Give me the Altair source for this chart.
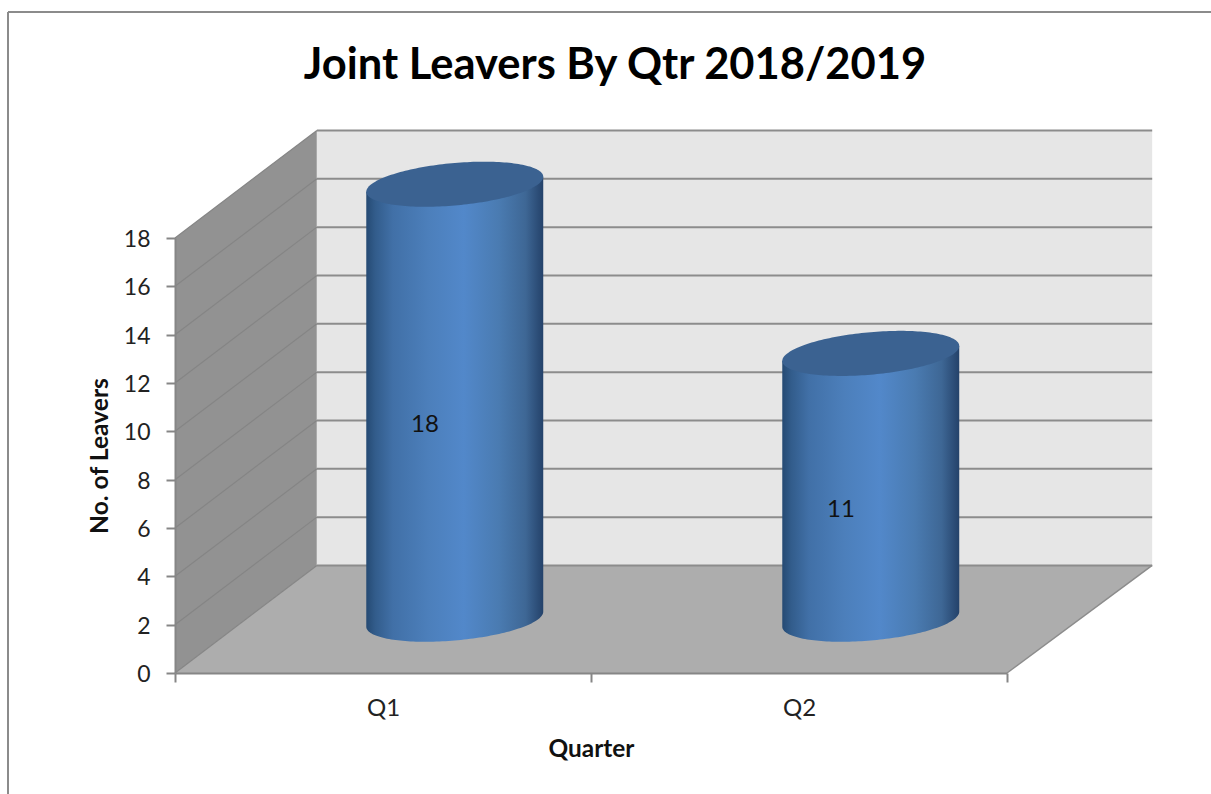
import math
import altair as alt
import pandas as pd

# Values shown by the chart
quarters = ["Q1", "Q2"]
leavers = [18, 11]
tick_values = [0, 2, 4, 6, 8, 10, 12, 14, 16, 18]

# Oblique projection of the box, in axis units
DEPTH_X = 0.345
DEPTH_X_LEFT = 0.341
DEPTH_X_RIGHT = 0.349
DEPTH_Y = 4.45
X_MAX = len(quarters)
Y_MAX = 18

# Cylinder proportions, in axis units
CYL_HALF_WIDTH = 0.2127
CYL_HALF_HEIGHT = 0.88
CYL_SHEAR = 0.31
CYL_DEPTH = 0.5

GRID = "#8c8c8c"
FONT = "Lato"


def ellipse_rows():
    """Sample the base and top outlines of each cylinder from its value."""
    rows = []
    n = 90
    for i, (q, v) in enumerate(zip(quarters, leavers)):
        cx = i + 0.5 + CYL_DEPTH * DEPTH_X
        base = CYL_DEPTH * DEPTH_Y
        for k in range(n + 1):
            c = -math.cos(math.pi * k / n)
            half = CYL_HALF_HEIGHT * math.sqrt(max(0.0, 1 - c * c))
            tilt = CYL_SHEAR * c
            rows.append({
                "q": q,
                "x": cx + CYL_HALF_WIDTH * c,
                "body_low": base + tilt - half,
                "body_high": base + v + tilt,
                "top_low": base + v + tilt - half,
                "top_high": base + v + tilt + half,
            })
    return pd.DataFrame(rows)


cyl = ellipse_rows()

x_scale = alt.Scale(domain=[0, X_MAX], nice=False, zero=False)
y_scale = alt.Scale(domain=[0, Y_MAX], nice=False, zero=False)
X = lambda f: alt.X(f, type="quantitative", scale=x_scale, axis=None)
Y = lambda f: alt.Y(f, type="quantitative", scale=y_scale, axis=None)

# Outer chart border: left and top edges only
border = alt.Chart(pd.DataFrame({"a": [0]})).mark_rule(color="#8b8b8b", strokeWidth=2)
border_left = border.encode(x=alt.value(-167), y=alt.value(-226), y2=alt.value(556))
border_top = border.encode(x=alt.value(-167), x2=alt.value(1036), y=alt.value(-226))

# Left wall
side_wall = alt.Chart(pd.DataFrame({
    "x": [0, DEPTH_X_LEFT], "y": [0, DEPTH_Y], "y2": [Y_MAX, Y_MAX + DEPTH_Y],
})).mark_area(color="#929292", orient="vertical").encode(x=X("x"), y=Y("y"), y2="y2")

# Back wall
back_wall = alt.Chart(pd.DataFrame({
    "x": [DEPTH_X_LEFT], "x2": [X_MAX + DEPTH_X_RIGHT], "y": [DEPTH_Y], "y2": [Y_MAX + DEPTH_Y],
})).mark_rect(color="#e6e6e6").encode(x=X("x"), x2="x2", y=Y("y"), y2="y2")

# Floor
floor = alt.Chart(pd.DataFrame({
    "y": [0, DEPTH_Y], "x": [0, DEPTH_X_LEFT], "x2": [X_MAX, X_MAX + DEPTH_X_RIGHT],
})).mark_area(color="#adadad", orient="horizontal").encode(y=Y("y"), x=X("x"), x2="x2")

# Floor's right edge
floor_edge = alt.Chart(pd.DataFrame({
    "x": [X_MAX, X_MAX + DEPTH_X_RIGHT], "y": [0, DEPTH_Y],
})).mark_line(color=GRID, strokeWidth=1.5).encode(x=X("x"), y=Y("y"))

# Gridlines on the back wall
back_grid = alt.Chart(pd.DataFrame({
    "x": [DEPTH_X_LEFT] * len(tick_values),
    "x2": [X_MAX + DEPTH_X_RIGHT] * len(tick_values),
    "y": [t + DEPTH_Y for t in tick_values],
})).mark_rule(color=GRID, strokeWidth=2).encode(x=X("x"), x2="x2", y=Y("y"))

# Gridlines running across the left wall
side_rows = []
for t in tick_values:
    side_rows.append({"t": t, "x": 0, "y": t})
    side_rows.append({"t": t, "x": DEPTH_X_LEFT, "y": t + DEPTH_Y})
side_grid = alt.Chart(pd.DataFrame(side_rows)).mark_line(color="#858585", strokeWidth=1.2).encode(
    x=X("x"), y=Y("y"), detail="t:N"
)

# Axes: ticks at category boundaries, labels at category centres
axis_style = dict(domainColor="#868686", domainWidth=2, tickColor="#868686", tickWidth=2,
                  tickSize=9, labelFont=FONT, labelColor="#222222", grid=False)

axis_ticks = alt.Chart(pd.DataFrame({"x": [0], "y": [0]})).mark_point(opacity=0).encode(
    x=alt.X("x:Q", scale=x_scale, axis=alt.Axis(
        values=[0, 1, 2], labels=False, title=None, orient="bottom", zindex=1, **axis_style)),
    y=alt.Y("y:Q", scale=y_scale, axis=alt.Axis(
        values=tick_values, orient="left", labelFontSize=23, labelPadding=16, labelOffset=1.5,
        title="No. of Leavers", titleFont=FONT, titleFontSize=24.6, titleFontWeight="bold",
        titleColor="#111111", titlePadding=11, zindex=1, **axis_style)),
)

axis_labels = alt.Chart(pd.DataFrame({"x": [0], "y": [0]})).mark_point(opacity=0).encode(
    x=alt.X("x:Q", scale=x_scale, axis=alt.Axis(
        values=[0.5, 1.5], labelExpr=f"datum.value < 1 ? '{quarters[0]}' : '{quarters[1]}'",
        orient="bottom", ticks=False, domain=False, labelFontSize=24, labelPadding=23,
        labelFont=FONT, labelColor="#222222", grid=False,
        title="Quarter", titleFont=FONT, titleFontSize=24.4, titleFontWeight="bold",
        titleColor="#111111", titlePadding=17)),
    y=alt.Y("y:Q", scale=y_scale, axis=None),
)

# Cylinder bodies with the horizontal sheen, then their caps
body_fill = alt.Gradient(
    gradient="linear", x1=0, x2=1, y1=0, y2=0,
    stops=[
        alt.GradientStop(offset=0.0, color="#254a73"),
        alt.GradientStop(offset=0.05, color="#325c8b"),
        alt.GradientStop(offset=0.15, color="#4170a7"),
        alt.GradientStop(offset=0.35, color="#4c7fbb"),
        alt.GradientStop(offset=0.55, color="#5288ca"),
        alt.GradientStop(offset=0.75, color="#4a7bb1"),
        alt.GradientStop(offset=0.9, color="#3e6795"),
        alt.GradientStop(offset=0.97, color="#2c4d77"),
        alt.GradientStop(offset=1.0, color="#24426a"),
    ],
)
cyl_body = alt.Chart(cyl).mark_area(color=body_fill, orient="vertical").encode(
    x=X("x"), y=Y("body_low"), y2="body_high", detail="q:N"
)
cyl_top = alt.Chart(cyl).mark_area(color="#3b6291", orient="vertical").encode(
    x=X("x"), y=Y("top_low"), y2="top_high", detail="q:N"
)

# Value labels; each sits part-way up its cylinder
label_df = pd.DataFrame({
    "x": [i + 0.601 for i in range(len(quarters))],
    "y": [v / 2 + 1.25 for v in leavers],
    "value": leavers,
})
value_labels = alt.Chart(label_df).mark_text(
    font=FONT, fontSize=24, color="#111111"
).encode(x=X("x"), y=Y("y"), text="value:Q")

chart = alt.layer(
    border_left, border_top,
    side_wall, back_wall, floor, floor_edge, back_grid, side_grid,
    axis_ticks, axis_labels,
    cyl_body, cyl_top, value_labels,
).resolve_axis(x="independent", y="independent").properties(
    width=832,
    height=435,
    padding={"left": 175, "top": 238, "right": 204, "bottom": 121},
    autosize=alt.AutoSizeParams(type="none"),
    background="white",
    title=alt.TitleParams(
        "Joint Leavers By Qtr 2018/2019",
        font=FONT, fontSize=43.5, fontWeight="bold", color="#000000",
        anchor="middle", frame="group", dx=24, offset=0, dy=77,
    ),
).configure_view(stroke=None)

chart.save("out.html", embed_options={"renderer": "svg", "actions": False})
